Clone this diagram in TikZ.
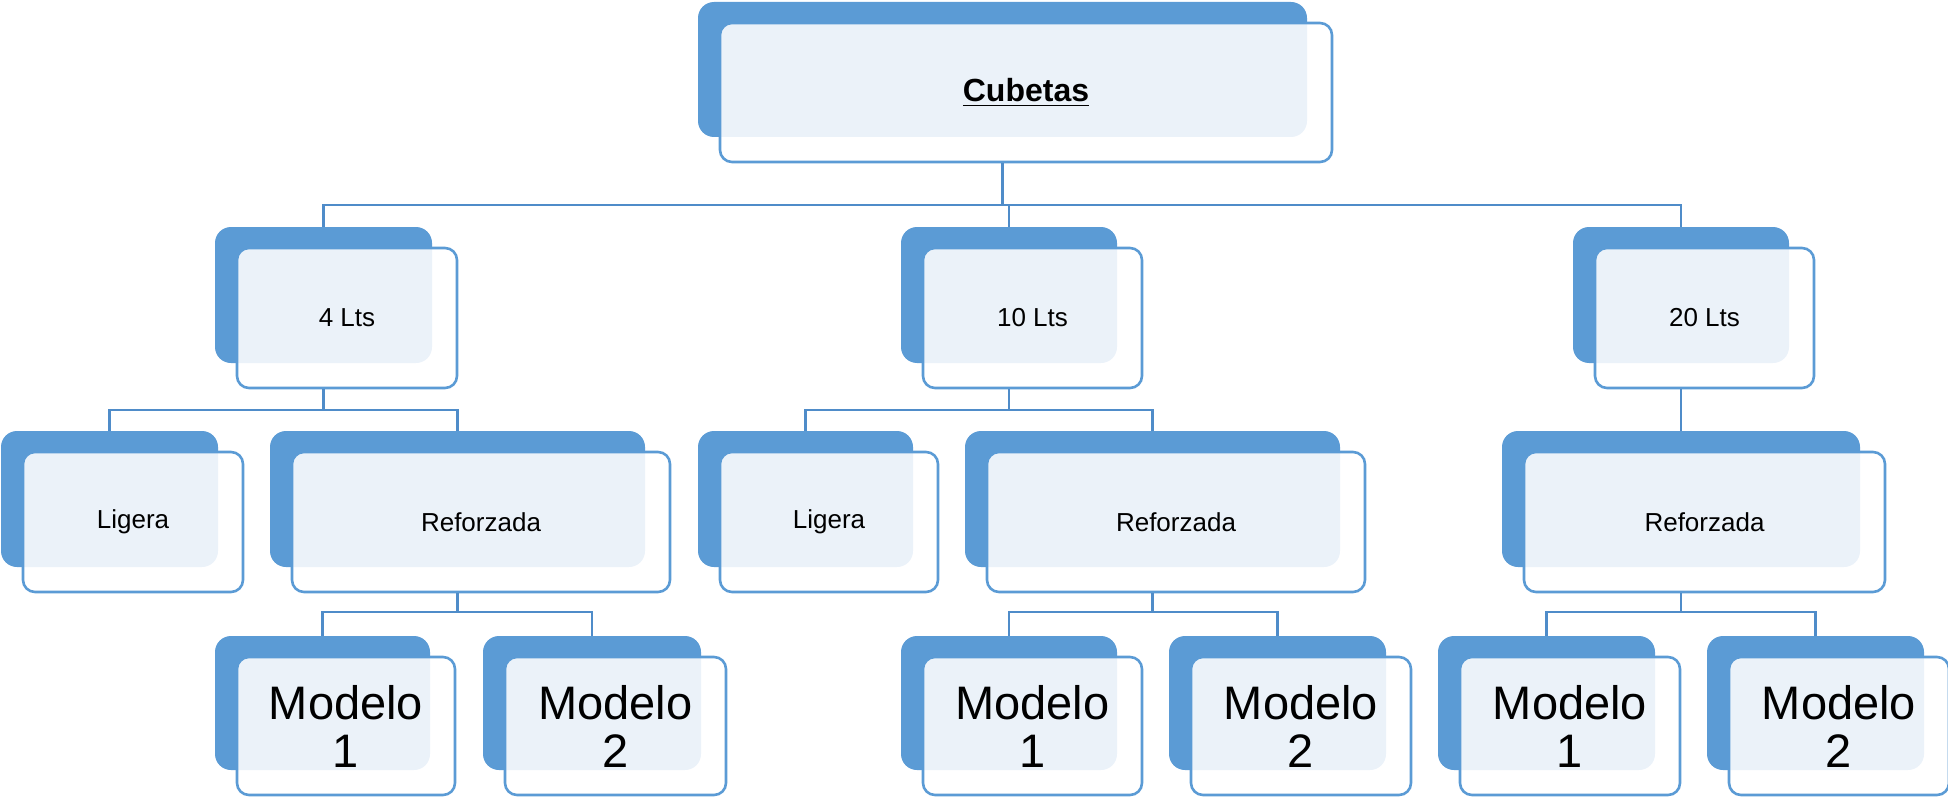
\documentclass[tikz,border=0pt]{standalone}
\usepackage{fontspec}
\setmainfont{Liberation Sans}
\definecolor{boxblue}{HTML}{5B9BD5}
\definecolor{lineblue}{HTML}{4F8CC9}
\tikzset{
  backbox/.style={fill=boxblue, draw=none, inner sep=0pt, rounded corners=8pt},
  frontbox/.style={fill=white, fill opacity=0.88, text opacity=1, draw=boxblue,
    line width=1.3pt, inner sep=0pt, rounded corners=6pt, align=center},
  smalltext/.style={font=\fontsize{13}{15}\selectfont},
  bigtext/.style={font=\fontsize{23.5}{24}\selectfont},
  toptext/.style={font=\fontsize{16}{18}\selectfont\bfseries},
  conn/.style={draw=lineblue, line width=1.1pt}
}
% #1 name, #2..#5 back box corners (px), #6 text style, #7 text
\newcommand\twobox[7]{%
  \pgfmathsetmacro\bw{0.5*(#4-#2)}%
  \pgfmathsetmacro\bh{0.5*(#5-#3)}%
  \pgfmathsetmacro\fw{0.5*(#4-#2+3)}%
  \pgfmathsetmacro\fh{0.5*(#5-#3+4)}%
  \node[backbox, minimum width=\bw pt, minimum height=\bh pt] (#1b)
    at ({(#2+#4)/2},{(#3+#5)/2}) {};
  \node[frontbox, #6, minimum width=\fw pt, minimum height=\fh pt] (#1)
    at ({(#2+#4)/2+23.5},{(#3+#5)/2+23}) {#7};
}
\begin{document}
\begin{tikzpicture}[x=0.5pt,y=-0.5pt]
\useasboundingbox (0,0) rectangle (1948,797);
\coordinate (bus1) at (0,205);
\coordinate (bus2) at (0,410);
\coordinate (bus3) at (0,612);

% root
\twobox{top}{698}{2}{1307}{137}{toptext}{\underline{Cubetas}}
% capacities
\twobox{l4}{215}{227}{432}{363}{smalltext}{4 Lts}
\twobox{l10}{901}{227}{1117}{363}{smalltext}{10 Lts}
\twobox{l20}{1573}{227}{1789}{363}{smalltext}{20 Lts}
% types
\twobox{lig1}{1}{431}{218}{567}{smalltext}{Ligera}
\twobox{ref1}{270}{431}{645}{567}{smalltext}{Reforzada}
\twobox{lig2}{698}{431}{913}{567}{smalltext}{Ligera}
\twobox{ref2}{965}{431}{1340}{567}{smalltext}{Reforzada}
\twobox{ref3}{1502}{431}{1860}{567}{smalltext}{Reforzada}
% models
\twobox{m1a}{215}{636}{430}{770}{bigtext}{Modelo\\1}
\twobox{m2a}{483}{636}{701}{770}{bigtext}{Modelo\\2}
\twobox{m1b}{901}{636}{1117}{770}{bigtext}{Modelo\\1}
\twobox{m2b}{1169}{636}{1386}{770}{bigtext}{Modelo\\2}
\twobox{m1c}{1438}{636}{1655}{770}{bigtext}{Modelo\\1}
\twobox{m2c}{1707}{636}{1924}{770}{bigtext}{Modelo\\2}

% connectors
\draw[conn] (topb.south |- top.south) -- (topb.south |- bus1) -| (l4b.north);
\draw[conn] (topb.south |- bus1) -| (l10b.north);
\draw[conn] (topb.south |- bus1) -| (l20b.north);

\draw[conn] (l4b.south |- l4.south) -- (l4b.south |- bus2) -| (lig1b.north);
\draw[conn] (l4b.south |- bus2) -| (ref1b.north);
\draw[conn] (l10b.south |- l10.south) -- (l10b.south |- bus2) -| (lig2b.north);
\draw[conn] (l10b.south |- bus2) -| (ref2b.north);
\draw[conn] (l20b.south |- l20.south) -- (ref3b.north);

\draw[conn] (ref1b.south |- ref1.south) -- (ref1b.south |- bus3) -| (m1ab.north);
\draw[conn] (ref1b.south |- bus3) -| (m2ab.north);
\draw[conn] (ref2b.south |- ref2.south) -- (ref2b.south |- bus3) -| (m1bb.north);
\draw[conn] (ref2b.south |- bus3) -| (m2bb.north);
\draw[conn] (ref3b.south |- ref3.south) -- (ref3b.south |- bus3) -| (m1cb.north);
\draw[conn] (ref3b.south |- bus3) -| (m2cb.north);
\end{tikzpicture}
\end{document}
